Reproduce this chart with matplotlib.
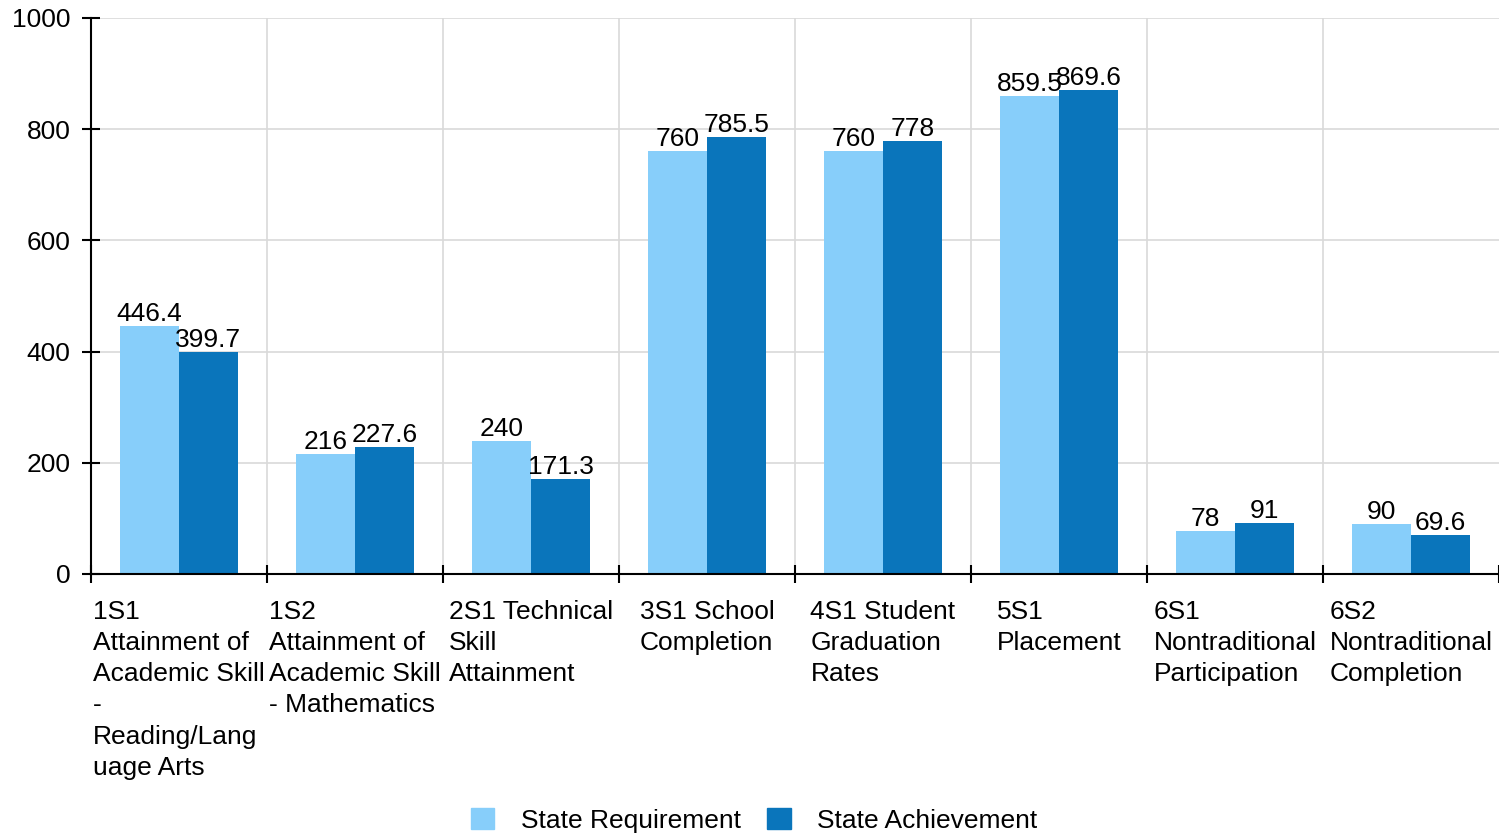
import numpy as np
import matplotlib
matplotlib.use('Agg')
import matplotlib.pyplot as plt
from matplotlib.patches import Patch

plt.rcParams['font.family'] = ['Liberation Sans', 'DejaVu Sans']

categories = [
    "1S1\nAttainment of\nAcademic Skill\n-\nReading/Lang\nuage Arts",
    "1S2\nAttainment of\nAcademic Skill\n- Mathematics",
    "2S1 Technical\nSkill\nAttainment",
    "3S1 School\nCompletion",
    "4S1 Student\nGraduation\nRates",
    "5S1\nPlacement",
    "6S1\nNontraditional\nParticipation",
    "6S2\nNontraditional\nCompletion",
]
requirement = [446.4, 216, 240, 760, 760, 859.5, 78, 90]
achievement = [399.7, 227.6, 171.3, 785.5, 778, 869.6, 91, 69.6]
y_ticks = [0, 200, 400, 600, 800, 1000]

light = '#87cefa'
dark = '#0a75bb'
fs = 19

fig = plt.figure(figsize=(14.99, 8.36), dpi=100)
ax = fig.add_axes([0.0607, 0.3134, 0.9393, 0.6651])

n = len(categories)
x = np.arange(n)
w = 0.335
b1 = ax.bar(x + 0.5 - w / 2, requirement, w, color=light, zorder=3)
b2 = ax.bar(x + 0.5 + w / 2, achievement, w, color=dark, zorder=3)
ax.bar_label(b1, labels=[f'{v:g}' for v in requirement], padding=0, fontsize=fs)
ax.bar_label(b2, labels=[f'{v:g}' for v in achievement], padding=0, fontsize=fs)

ax.set_xlim(0, n)
ax.set_ylim(0, 1000)
ax.set_yticks(y_ticks)
ax.set_yticklabels([str(t) for t in y_ticks], fontsize=fs)
ax.set_xticks(np.arange(n + 1))
ax.set_xticklabels([])

# grid
for xi in range(1, n):
    ax.axvline(xi, color='#d9d9d9', lw=1.2, zorder=1)
for yt in y_ticks[1:]:
    ax.axhline(yt, color='#d9d9d9', lw=1.2, zorder=1)

for s in ['top', 'right']:
    ax.spines[s].set_visible(False)
for s in ['left', 'bottom']:
    ax.spines[s].set_linewidth(1.5)
    ax.spines[s].set_zorder(4)
ax.tick_params(axis='both', direction='inout', length=13.5, width=1.5, pad=2)
ax.tick_params(axis='y', pad=8)

# category labels
for i, lab in enumerate(categories):
    ax.annotate(lab, xy=(i + 0.5, 0), xycoords=('data', 'axes fraction'),
                xytext=(0, -19), textcoords='offset points',
                ha='center', va='top', multialignment='left',
                fontsize=fs, linespacing=1.37)

handles = [Patch(color=light, label='State Requirement'),
           Patch(color=dark, label='State Achievement')]
fig.legend(handles=handles, loc='center', bbox_to_anchor=(0.503, 0.019),
           ncol=2, frameon=False, fontsize=fs, handlelength=0.9, handleheight=0.9,
           handletextpad=1.0, columnspacing=1.0, borderpad=0)

fig.savefig('out.png', dpi=100)
